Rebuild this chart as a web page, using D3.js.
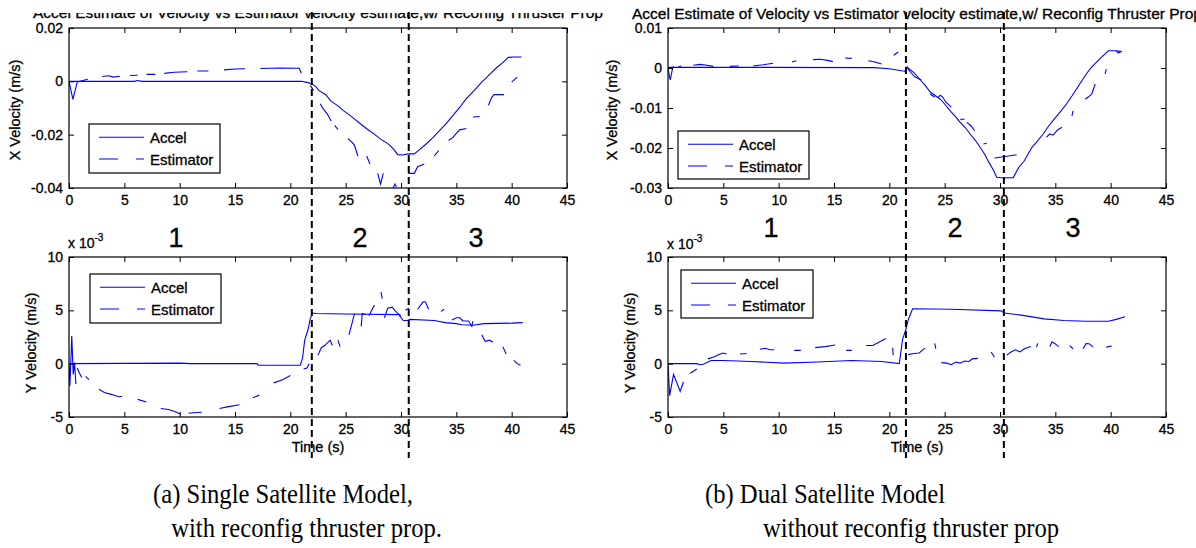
<!DOCTYPE html>
<html><head><meta charset="utf-8">
<script src="https://cdn.jsdelivr.net/npm/d3@7"></script>
<style>
body{margin:0;background:#fff}
svg{display:block}
</style>
</head><body>
<svg id="c" width="1196" height="548"></svg>
<script>
// ---------------- DATA ----------------
const xTicks = [0,5,10,15,20,25,30,35,40,45];
const yTicksXA = [-0.04,-0.02,0,0.02];
const yTickLabelsXA = ["-0.04","-0.02","0","0.02"];
const yTicksXB = [-0.03,-0.02,-0.01,0,0.01];
const yTickLabelsXB = ["-0.03","-0.02","-0.01","0","0.01"];
const yTicksY = [-5,0,5,10];
const yTickLabelsY = ["-5","0","5","10"];
const seriesNames = ["Accel","Estimator"];
const phaseLabels = ["1","2","3"];
const phaseBoundsA = [21.94, 30.7];
const phaseBoundsB = [21.5, 30.35];
const titleText = "Accel Estimate of Velocity vs Estimator velocity estimate,w/ Reconfig Thruster Prop";
const captionA = ["(a) Single Satellite Model,", " with reconfig thruster prop."];
const captionB = ["(b) Dual Satellite Model", "without reconfig thruster prop"];

// (a) X velocity, m/s
const accelXA = [[0,0],[5.9,0],[6.2,0.0003],[6.6,0],[21,0],[21.5,-0.0004],[21.9,-0.0008],[22.3,-0.002],[22.6,-0.0035],[23.2,-0.005],[23.7,-0.0075],[24.3,-0.0092],[24.8,-0.011],[25.3,-0.0125],[25.7,-0.0138],[26.3,-0.0158],[26.9,-0.0178],[27.5,-0.0195],[28.1,-0.0215],[28.6,-0.0228],[29.0,-0.024],[29.4,-0.0258],[29.7,-0.0275],[30.2,-0.0276],[30.6,-0.0272],[31.2,-0.0272],[31.7,-0.0255],[32.3,-0.0234],[32.9,-0.021],[33.5,-0.0184],[34.1,-0.0158],[34.7,-0.0128],[35.3,-0.0098],[35.9,-0.0065],[36.6,-0.0035],[37.3,-0.0003],[38.0,0.0025],[38.6,0.005],[39.2,0.007],[39.7,0.009],[40.2,0.0091],[40.9,0.0091]];
const estXA = [[0,0],[0.35,-0.0068],[0.75,-0.0002],[1.7,0.0008],null,
 [3.0,0.0018],[3.6,0.0021],[4.0,0.0016],[4.6,0.0019],null,
 [5.5,0.0022],[6.2,0.0023],null,
 [7.0,0.0026],[7.8,0.0026],null,
 [8.6,0.003],[9.5,0.0034],[10.7,0.0036],null,
 [11.6,0.0039],[12.6,0.0039],null,
 [14.0,0.0043],[15.0,0.0046],[15.9,0.0047],null,
 [17.3,0.0048],[19.0,0.005],[20.8,0.0049],[21.0,0.003],null,
 [21.8,-0.0015],[22.1,-0.0034],null,
 [22.7,-0.0084],[23.0,-0.0105],[23.3,-0.012],[23.7,-0.015],null,
 [24.0,-0.0165],[24.3,-0.018],null,
 [25.2,-0.0215],[25.5,-0.0225],[25.8,-0.024],[26.1,-0.028],null,
 [26.9,-0.028],[27.2,-0.031],null,
 [27.9,-0.0345],[28.15,-0.0385],[28.4,-0.0345],null,
 [29.3,-0.04],[29.45,-0.0385],[29.6,-0.0395],null,
 [30.65,-0.0345],[31.2,-0.0345],[31.5,-0.032],[32.1,-0.031],null,
 [33.0,-0.028],[33.4,-0.026],null,
 [34.3,-0.0222],[34.7,-0.021],[35.0,-0.0195],[35.3,-0.0182],[35.9,-0.0177],null,
 [36.5,-0.0134],[37.1,-0.0132],null,
 [37.9,-0.009],[38.2,-0.006],[38.4,-0.005],[39.3,-0.005],null,
 [40.0,-0.0003],[40.5,0.0016]];

// (b) X velocity, m/s
const accelXB = [[0,0],[0.1,0.0002],[18.6,0.0001],[20.0,-0.0002],[21.1,-0.0007],[21.4,-0.0008],[21.6,0.0003],[21.9,-0.0005],[22.2,-0.0011],[22.5,-0.002],[22.8,-0.003],[23.2,-0.0042],[23.7,-0.006],[24.1,-0.0068],[24.6,-0.0078],[25.0,-0.009],[25.5,-0.0107],[26.0,-0.0122],[26.4,-0.0136],[26.9,-0.015],[27.3,-0.0165],[27.8,-0.0182],[28.2,-0.0198],[28.6,-0.0215],[29.0,-0.0236],[29.4,-0.0255],[29.7,-0.0273],[30.3,-0.0275],[31.2,-0.0274],[31.7,-0.0248],[32.2,-0.0232],[32.6,-0.0212],[32.9,-0.0198],[33.4,-0.0182],[33.9,-0.0165],[34.4,-0.0145],[34.9,-0.0128],[35.5,-0.0108],[36.0,-0.009],[36.5,-0.007],[36.9,-0.0053],[37.4,-0.0032],[37.8,-0.0015],[38.2,0],[38.7,0.0014],[39.2,0.0028],[39.8,0.0043],[40.5,0.0043],[41.0,0.0041]];
const estXB = [[0,0],[0.2,-0.003],[0.4,-0.0003],[0.5,0.0004],null,
 [0.9,0.0002],[1.2,0.0005],null,
 [2.3,0.0007],[2.9,0.0009],[3.5,0.0007],[4.1,0.0004],null,
 [5.6,0.0004],[6.4,0.0005],null,
 [7.7,0.0005],[8.6,0.0008],[9.5,0.0012],null,
 [11.2,0.0015],[11.6,0.0018],null,
 [13.1,0.0021],[13.8,0.0022],[14.4,0.0019],[14.9,0.0016],null,
 [16.0,0.0025],[16.6,0.0024],null,
 [18.1,0.0018],[18.7,0.0015],[19.3,0.001],null,
 [20.4,0.0032],[20.8,0.004],null,
 [21.6,0.0001],[21.9,-0.001],[22.3,-0.0022],[22.9,-0.003],null,
 [23.7,-0.0065],[24.1,-0.0073],null,
 [24.4,-0.0074],[24.6,-0.0068],[24.8,-0.0072],[25.1,-0.0085],[25.6,-0.0098],null,
 [26.4,-0.0128],[26.8,-0.0128],null,
 [27.0,-0.0136],[27.4,-0.0145],[27.7,-0.0157],null,
 [28.5,-0.019],[28.8,-0.0188],null,
 [29.5,-0.0225],[30.3,-0.0222],[31.5,-0.0217],null,
 [34.2,-0.0173],[34.5,-0.0165],[34.8,-0.0168],[35.2,-0.0155],[35.6,-0.0148],null,
 [36.5,-0.012],[36.6,-0.0107],null,
 [37.7,-0.0078],[38.0,-0.0072],[38.3,-0.0065],[38.6,-0.004],null,
 [39.5,-0.0015],[39.6,-0.0003],null,
 [40.5,0.0042],[40.7,0.0038],[41.0,0.0042]];

// (a) Y velocity, x 10^-3 m/s
const accelYA = [[0,0],[10,0.05],[11,0],[17,0],[17.1,-0.15],[20.9,-0.15],[21.1,0.5],[21.3,2.2],[21.6,3.2],[21.8,4.2],[22.0,4.75],[22.3,4.7],[25,4.65],[29.8,4.6],[30.2,4.05],[30.6,4.05],[30.8,4.15],[33,4.05],[34,3.85],[35,3.75],[35.5,3.65],[36.5,3.6],[37.5,3.75],[40,3.8],[41,3.85]];
const estYA = [[0,0],[0.08,-2.1],[0.25,2.6],[0.38,-1.0],[0.5,0.1],[0.62,-1.9],null,
 [0.75,-0.4],[0.95,-0.9],[1.15,-1.3],null,
 [1.5,-1.2],[1.8,-1.5],null,
 [2.7,-2.4],[3.2,-2.7],[3.9,-2.9],[4.5,-3.1],[4.8,-3.05],null,
 [6.2,-3.35],[7.0,-3.6],null,
 [8.3,-4.2],[9.0,-4.3],[9.6,-4.5],[10.1,-4.75],null,
 [10.8,-4.65],[11.2,-4.6],[12.0,-4.55],null,
 [13.6,-4.2],[14.3,-4.05],[15.4,-3.85],null,
 [16.6,-3.2],[17.2,-2.95],null,
 [18.5,-1.8],[19.3,-1.5],[20.0,-1.1],null,
 [21.2,-0.5],[21.5,-0.4],[21.7,0],null,
 [22.5,0.8],[22.8,1.5],[23.1,1.7],[23.6,2.2],[23.8,1.7],null,
 [24.3,2.2],[24.5,1.6],null,
 [25.3,2.7],[25.8,4.7],null,
 [26.4,3.5],[26.5,4.7],[26.8,4.6],null,
 [27.1,4.5],[27.6,5.5],null,
 [28.2,6.7],[28.3,6.1],null,
 [28.5,4.3],[28.8,5.2],[29.2,5.3],[29.6,4.8],[30.0,4.5],null,
 [30.4,5.0],[30.7,5.2],null,
 [31.5,5.1],[32.0,5.8],[32.2,5.8],[32.5,5.1],null,
 [33.6,4.9],[33.9,5.1],null,
 [34.6,4.1],[35.0,4.3],[35.3,4.3],[35.6,4.0],[36.1,4.0],[36.4,3.5],[36.5,4.0],null,
 [37.3,2.7],[37.6,2.1],[38.0,2.2],[38.3,2.0],null,
 [39.2,1.6],[39.5,0.9],null,
 [40.2,0.3],[40.5,0],[40.8,-0.15]];

// (b) Y velocity, x 10^-3 m/s
const accelYB = [[0,0],[2.6,0],[2.9,-0.1],[3.2,-0.05],[3.9,0.3],[5,0.3],[7.5,0.2],[10.5,0.05],[13.5,0.15],[16.6,0.3],[19.3,0.2],[20.9,0],[21.2,2.3],[21.5,3.2],[21.7,4.1],[22.1,5.15],[25.6,5.1],[30.1,4.95],[30.4,4.75],[31.9,4.55],[34,4.2],[35.8,4.05],[37.7,3.97],[39.8,3.97],[40.5,4.15],[41.3,4.4]];
const estYB = [[0,0],[0.15,-3.0],[0.5,-1.0],[1.1,-2.6],[1.4,-1.7],null,
 [2.0,-0.9],[2.6,-0.5],null,
 [3.6,0.45],[4.2,0.65],[4.6,0.85],[5.0,1.0],[5.3,0.9],null,
 [6.5,0.9],[7.1,0.95],null,
 [8.3,1.35],[8.8,1.45],[9.2,1.3],[9.6,1.3],null,
 [11.4,1.25],[12.0,1.25],null,
 [13.3,1.5],[14.2,1.6],[15.1,1.75],null,
 [16.1,1.25],[16.6,1.25],null,
 [17.9,1.7],[18.5,1.7],[19.7,2.35],null,
 [20.3,1.5],[20.35,0.8],null,
 [21.7,0.85],[22.2,0.95],[22.7,1.0],[23.2,1.45],null,
 [24.1,1.9],[24.2,1.4],null,
 [24.7,0.1],[25.2,0.05],[25.6,-0.1],[26.0,0.15],[26.4,0.05],[26.8,0.25],[27.2,0.2],[27.5,0.45],[28.0,0.5],null,
 [29.2,1.1],[29.5,0.6],null,
 [30.6,0.8],[31.0,1.1],[31.4,1.3],[31.8,1.1],[32.2,1.4],[32.8,1.6],null,
 [33.3,1.55],[33.4,1.9],null,
 [34.5,1.6],[34.7,2.05],[35.0,1.85],[35.3,1.6],null,
 [36.3,1.7],[36.6,1.4],null,
 [37.5,1.4],[37.8,1.9],[38.1,1.85],[38.4,1.55],null,
 [39.6,1.55],[40.1,1.65]];

// ---------------- DRAW ----------------
const svg = d3.select("#c");
svg.append("rect").attr("width",1196).attr("height",548).attr("fill","#fff");
const FONT = "'Liberation Sans', Arial, Helvetica, sans-serif";
const SERIF = "'Liberation Serif', 'Times New Roman', serif";
const BLUE = "#0000ff";
const heavy = sel => sel.attr("stroke","#000").attr("stroke-width",0.3);

const panels = [
 {x0:69,x1:567,y0:28,y1:188,dom:[-0.04,0.02],ticks:yTicksXA,labels:yTickLabelsXA,accel:accelXA,est:estXA,
  leg:[89,124,131,49],ylabel:"X Velocity (m/s)",ylx:15,yly:110,title:{x:318,y:17.5,clip:13}},
 {x0:668,x1:1166,y0:28,y1:188,dom:[-0.03,0.01],ticks:yTicksXB,labels:yTickLabelsXB,accel:accelXB,est:estXB,
  leg:[678,131,131,48],ylabel:"X Velocity (m/s)",ylx:612,yly:110,title:{x:917,y:19,clip:0}},
 {x0:69,x1:567,y0:257,y1:417,dom:[-5,10],ticks:yTicksY,labels:yTickLabelsY,accel:accelYA,est:estYA,
  leg:[90,274,131,49],ylabel:"Y Velocity (m/s)",ylx:31,yly:343,exp:{x:68,y:248},xlabel:true},
 {x0:668,x1:1166,y0:257,y1:417,dom:[-5,10],ticks:yTicksY,labels:yTickLabelsY,accel:accelYB,est:estYB,
  leg:[681,270,132,48],ylabel:"Y Velocity (m/s)",ylx:630,yly:343,exp:{x:667,y:249},xlabel:true}
];

const defs = svg.append("defs");

panels.forEach((p,i)=>{
  const x = d3.scaleLinear().domain([0,45]).range([p.x0,p.x1]);
  const y = d3.scaleLinear().domain(p.dom).range([p.y1,p.y0]);
  const g = svg.append("g");
  const cid = "clip"+i;
  defs.append("clipPath").attr("id",cid).append("rect")
    .attr("x",p.x0).attr("y",p.y0).attr("width",p.x1-p.x0).attr("height",p.y1-p.y0);

  const line = d3.line().defined(d=>d!=null).x(d=>x(d[0])).y(d=>y(d[1]));
  const plot = g.append("g").attr("clip-path",`url(#${cid})`);
  plot.append("path").attr("d",line(p.accel)).attr("fill","none").attr("stroke",BLUE).attr("stroke-width",1.1);
  plot.append("path").attr("d",line(p.est)).attr("fill","none").attr("stroke",BLUE).attr("stroke-width",1.1);

  const styleAxis = sel => { sel.select(".domain").remove();
    sel.selectAll("line").attr("stroke","#000");
    sel.selectAll("text").attr("fill","#000").attr("font-family",FONT).attr("font-size",14).call(heavy); };
  g.append("g").attr("transform",`translate(0,${p.y1})`)
    .call(d3.axisBottom(x).tickValues(xTicks).tickSize(-5).tickPadding(7.5).tickFormat(d3.format("d"))).call(styleAxis);
  g.append("g").attr("transform",`translate(0,${p.y0})`)
    .call(d3.axisTop(x).tickValues(xTicks).tickSize(-5).tickFormat("")).call(styleAxis);
  g.append("g").attr("transform",`translate(${p.x0},0)`)
    .call(d3.axisLeft(y).tickValues(p.ticks).tickSize(-5).tickPadding(6).tickFormat((d,k)=>p.labels[k])).call(styleAxis);
  g.append("g").attr("transform",`translate(${p.x1},0)`)
    .call(d3.axisRight(y).tickValues(p.ticks).tickSize(-5).tickFormat("")).call(styleAxis);
  g.append("rect").attr("x",p.x0).attr("y",p.y0).attr("width",p.x1-p.x0).attr("height",p.y1-p.y0)
    .attr("fill","none").attr("stroke","#000").attr("stroke-width",1.2);

  g.append("text").attr("transform",`translate(${p.ylx},${p.yly}) rotate(-90)`)
    .attr("text-anchor","middle").attr("dominant-baseline","central")
    .attr("font-family",FONT).attr("font-size",14.5).call(heavy).text(p.ylabel);

  if (p.exp) {
    const t = g.append("text").attr("x",p.exp.x).attr("y",p.exp.y).attr("font-family",FONT).attr("font-size",14).call(heavy);
    t.append("tspan").text("x 10");
    t.append("tspan").attr("dy",-7).attr("font-size",10).text("-3");
  }
  if (p.xlabel) {
    g.append("text").attr("x",(p.x0+p.x1)/2).attr("y",p.y1+35).attr("text-anchor","middle")
      .attr("font-family",FONT).attr("font-size",14.5).call(heavy).text("Time (s)");
  }
  if (p.title) {
    const tid = "tclip"+i;
    defs.append("clipPath").attr("id",tid).append("rect").attr("x",0).attr("y",p.title.clip).attr("width",1196).attr("height",40);
    g.append("text").attr("clip-path",`url(#${tid})`).attr("x",p.title.x).attr("y",p.title.y).attr("text-anchor","middle")
      .attr("font-family",FONT).attr("font-size",15.5).call(heavy).text(titleText);
  }

  const [lx,ly,lw,lh] = p.leg;
  const lg = g.append("g");
  lg.append("rect").attr("x",lx).attr("y",ly).attr("width",lw).attr("height",lh)
    .attr("fill","#fff").attr("stroke","#000").attr("stroke-width",1.2);
  seriesNames.forEach((nm,k)=>{
    const yy = ly + (k===0 ? 13.3 : 35);
    lg.append("line").attr("x1",lx+10).attr("x2",lx+55).attr("y1",yy).attr("y2",yy)
      .attr("stroke",BLUE).attr("stroke-width",1.1).attr("stroke-dasharray",k===0?null:"19,18");
    lg.append("text").attr("x",lx+61).attr("y",yy).attr("dominant-baseline","central")
      .attr("font-family",FONT).attr("font-size",15).call(heavy).text(nm);
  });
});

const phaseX = [[176,360,476],[771,955,1073]];
const phaseY = [247,237];
phaseX.forEach((xs,j)=>xs.forEach((xx,k)=>{
  svg.append("text").attr("x",xx).attr("y",phaseY[j]).attr("text-anchor","middle")
    .attr("font-family",FONT).attr("font-size",27).call(heavy).text(phaseLabels[k]);
}));

[[phaseBoundsA,panels[0]],[phaseBoundsB,panels[1]]].forEach(([b,p])=>{
  const x = d3.scaleLinear().domain([0,45]).range([p.x0,p.x1]);
  b.forEach(t=>{
    svg.append("line").attr("x1",x(t)).attr("x2",x(t)).attr("y1",12).attr("y2",458)
      .attr("stroke","#000").attr("stroke-width",2).attr("stroke-dasharray","7,4");
  });
});

[[captionA,[153,165]],[captionB,[705,763]]].forEach(([lines,xs])=>{
  lines.forEach((s,k)=>{
    svg.append("text").attr("transform",`translate(${xs[k]},${503+k*34}) scale(0.88,1)`)
      .attr("font-family",SERIF).attr("font-size",28)
      .attr("xml:space","preserve").style("white-space","pre").text(s);
  });
});
</script>
</body></html>
